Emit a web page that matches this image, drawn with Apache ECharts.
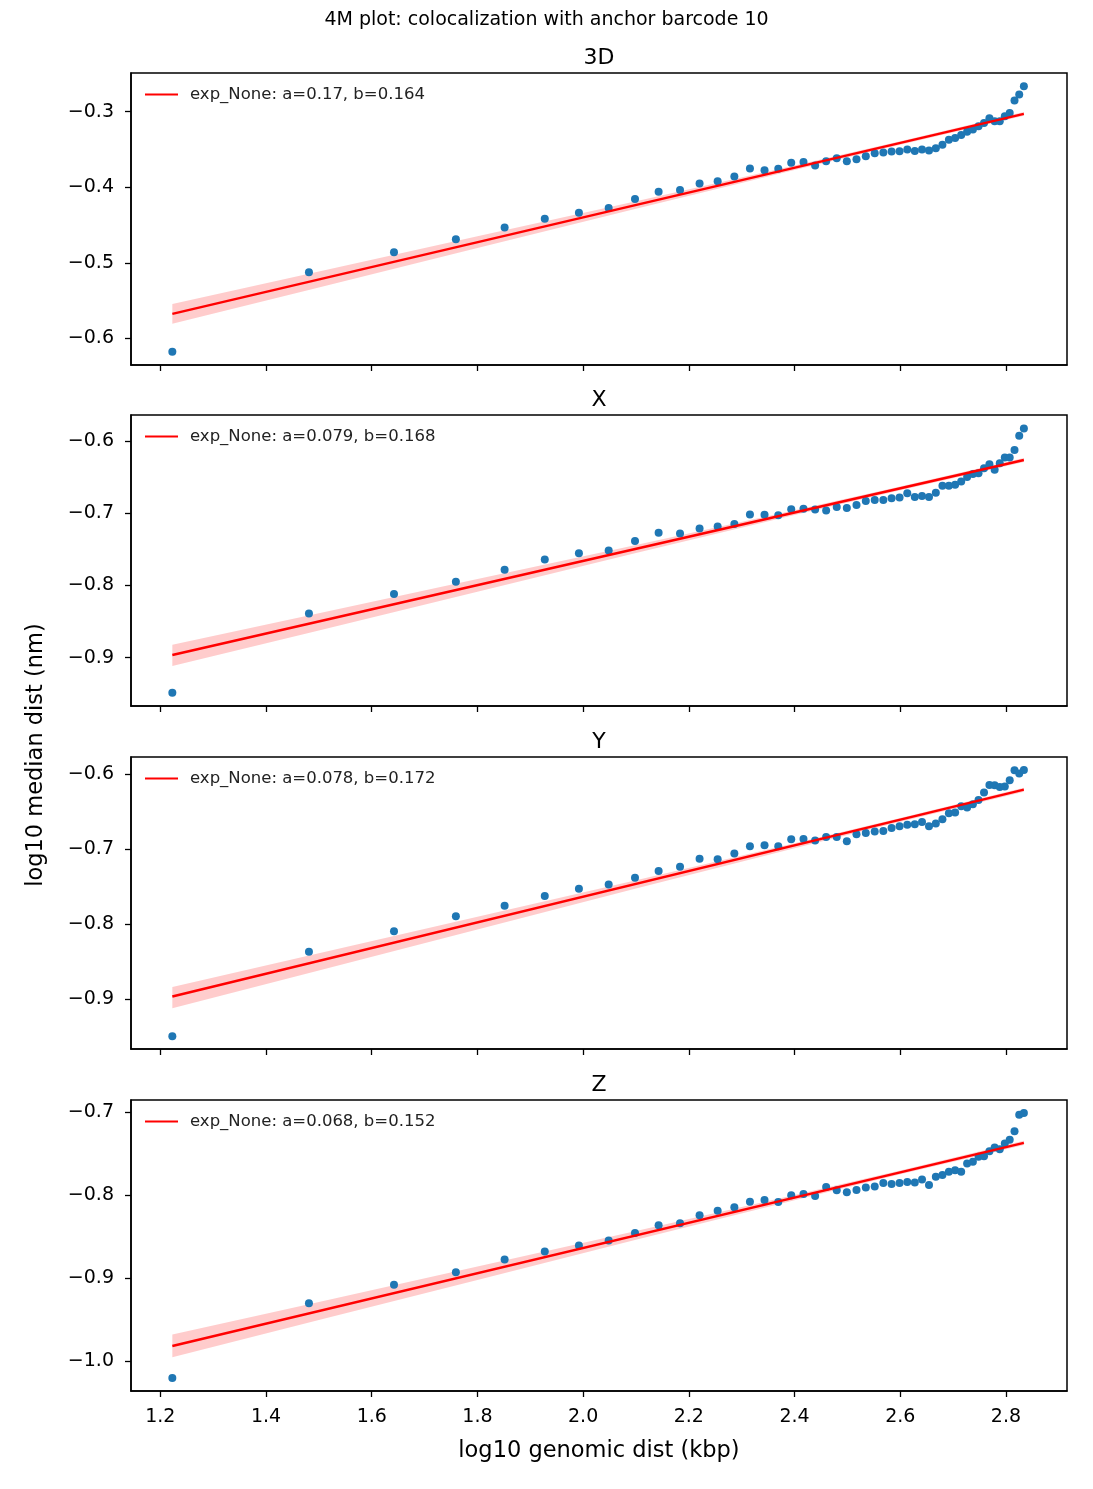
<!DOCTYPE html>
<html>
<head>
<meta charset="utf-8">
<script src="https://cdn.jsdelivr.net/npm/echarts@6/dist/echarts.min.js"></script>
<style>
html,body{margin:0;padding:0;background:#fff;}
#chart{width:1093px;height:1489px;}
</style>
</head>
<body>
<div id="chart"></div>
<script>
// ---------- data ----------
const xVals = [1.2227, 1.4812, 1.6421, 1.7592, 1.8514, 1.9274, 1.9920, 2.0483, 2.0981, 2.1428,
  2.1833, 2.2203, 2.2545, 2.2861, 2.3156, 2.3432, 2.3692, 2.3937, 2.4169, 2.4389,
  2.4598, 2.4798, 2.4989, 2.5172, 2.5348, 2.5517, 2.5680, 2.5836, 2.5987, 2.6133,
  2.6275, 2.6412, 2.6544, 2.6673, 2.6798, 2.6920, 2.7038, 2.7153, 2.7265, 2.7374,
  2.7481, 2.7585, 2.7687, 2.7786, 2.7883, 2.7978, 2.8071, 2.8162, 2.8251, 2.8339];

const y3D = [-0.6176, -0.5124, -0.4859, -0.4688, -0.4533, -0.4418, -0.4339, -0.4273, -0.4154, -0.4061,
  -0.4035, -0.3952, -0.3921, -0.3859, -0.3753, -0.3775, -0.3757, -0.3678, -0.3665, -0.3714,
  -0.3656, -0.3617, -0.3656, -0.3630, -0.3590, -0.3551, -0.3542, -0.3529, -0.3524, -0.3502,
  -0.3520, -0.3502, -0.3515, -0.3485, -0.3440, -0.3374, -0.3348, -0.3308, -0.3268, -0.3238,
  -0.3194, -0.3150, -0.3089, -0.3128, -0.3128, -0.3062, -0.3018, -0.2853, -0.2775, -0.2665];

const yX = [-0.9486, -0.8390, -0.8119, -0.7950, -0.7784, -0.7642, -0.7555, -0.7518, -0.7385, -0.7270,
  -0.7280, -0.7211, -0.7183, -0.7151, -0.7018, -0.7023, -0.7028, -0.6945, -0.6940, -0.6949,
  -0.6963, -0.6913, -0.6927, -0.6885, -0.6830, -0.6816, -0.6816, -0.6794, -0.6784, -0.6725,
  -0.6775, -0.6761, -0.6775, -0.6716, -0.6619, -0.6619, -0.6605, -0.6560, -0.6500, -0.6458,
  -0.6445, -0.6376, -0.6321, -0.6399, -0.6307, -0.6229, -0.6229, -0.6124, -0.5927, -0.5826];

const yY = [-0.9489, -0.8364, -0.8093, -0.7893, -0.7751, -0.7623, -0.7524, -0.7467, -0.7378, -0.7289,
  -0.7231, -0.7124, -0.7133, -0.7057, -0.6960, -0.6947, -0.6960, -0.6867, -0.6862, -0.6884,
  -0.6836, -0.6836, -0.6893, -0.6800, -0.6782, -0.6764, -0.6756, -0.6716, -0.6693, -0.6671,
  -0.6667, -0.6636, -0.6693, -0.6657, -0.6600, -0.6520, -0.6511, -0.6427, -0.6444, -0.6400,
  -0.6342, -0.6244, -0.6142, -0.6147, -0.6169, -0.6164, -0.6080, -0.5947, -0.5991, -0.5943];

const yZ = [-1.0202, -0.9301, -0.9077, -0.8929, -0.8773, -0.8677, -0.8605, -0.8545, -0.8453, -0.8360,
  -0.8336, -0.8240, -0.8185, -0.8144, -0.8077, -0.8056, -0.8080, -0.8000, -0.7984, -0.8008,
  -0.7900, -0.7940, -0.7964, -0.7936, -0.7904, -0.7892, -0.7852, -0.7864, -0.7852, -0.7840,
  -0.7844, -0.7808, -0.7876, -0.7776, -0.7756, -0.7716, -0.7696, -0.7716, -0.7616, -0.7596,
  -0.7536, -0.7528, -0.7468, -0.7424, -0.7444, -0.7376, -0.7328, -0.7228, -0.7028, -0.7008];

// fitted line end points
const fitX = [1.2227, 2.8339];
const fit3D = [-0.5674, -0.3030];
const fitXax = [-0.8965, -0.6262];
const fitYax = [-0.8960, -0.6205];
const fitZax = [-0.9818, -0.7367];

// confidence band (lower / upper edges)
const bandX = [1.2227, 1.5, 1.8, 2.1, 2.4, 2.6, 2.8339];
const band3DLo = [-0.5804, -0.5324, -0.4805, -0.4285, -0.3773, -0.3437, -0.3056];
const band3DHi = [-0.5544, -0.5114, -0.4649, -0.4185, -0.3713, -0.3393, -0.3006];
const bandXLo = [-0.9117, -0.8624, -0.8088, -0.7552, -0.7026, -0.6681, -0.6291];
const bandXHi = [-0.8823, -0.8384, -0.7912, -0.7440, -0.6958, -0.6631, -0.6235];
const bandYLo = [-0.9118, -0.8615, -0.8068, -0.7521, -0.6984, -0.6631, -0.6232];
const bandYHi = [-0.8834, -0.8383, -0.7898, -0.7413, -0.6918, -0.6583, -0.6178];
const bandZLo = [-0.9952, -0.9505, -0.9020, -0.8535, -0.8058, -0.7746, -0.7393];
const bandZHi = [-0.9680, -0.9285, -0.8858, -0.8431, -0.7996, -0.7700, -0.7341];

const panelTitles = ['3D', 'X', 'Y', 'Z'];
const legendLabels = ['exp_None: a=0.17, b=0.164', 'exp_None: a=0.079, b=0.168',
                      'exp_None: a=0.078, b=0.172', 'exp_None: a=0.068, b=0.152'];
const xTicks = [1.2, 1.4, 1.6, 1.8, 2.0, 2.2, 2.4, 2.6, 2.8];
const yTicks3D = [-0.6, -0.5, -0.4, -0.3];
const yTicksX = [-0.9, -0.8, -0.7, -0.6];
const yTicksY = [-0.9, -0.8, -0.7, -0.6];
const yTicksZ = [-1.0, -0.9, -0.8, -0.7];
const mainTitle = '4M plot: colocalization with anchor barcode 10';
const xAxisTitle = 'log10 genomic dist (kbp)';
const yAxisTitle = 'log10 median dist (nm)';

// ---------- layout ----------
const FONT = 'DejaVu Sans';
const gridLeft = 131, gridWidth = 936;
const gridTops = [73, 415, 757, 1100];
const gridHeights = [292, 291, 292, 291];
const yRanges = [[-0.635, -0.249], [-0.967, -0.564], [-0.966, -0.577], [-1.036, -0.685]];
const xRange = [1.1445, 2.9155];

const panels = [
  {y: y3D, fit: fit3D, lo: band3DLo, hi: band3DHi, ticks: yTicks3D},
  {y: yX, fit: fitXax, lo: bandXLo, hi: bandXHi, ticks: yTicksX},
  {y: yY, fit: fitYax, lo: bandYLo, hi: bandYHi, ticks: yTicksY},
  {y: yZ, fit: fitZax, lo: bandZLo, hi: bandZHi, ticks: yTicksZ}
];

const fmt = v => Number(v).toFixed(1).replace('-', '\u2212');

const grids = [], xAxes = [], yAxes = [], series = [], titles = [], legends = [];

titles.push({text: mainTitle, left: 'center', top: 6,
  textStyle: {fontFamily: FONT, fontSize: 19, fontWeight: 'normal', color: '#000'}});

panels.forEach((p, i) => {
  grids.push({left: gridLeft, top: gridTops[i], width: gridWidth, height: gridHeights[i],
    show: true, borderColor: '#000', borderWidth: 1.5, backgroundColor: 'transparent', containLabel: false});
  const last = i === panels.length - 1;
  xAxes.push({
    type: 'value', gridIndex: i, min: xRange[0], max: xRange[1],
    axisLine: {show: true, onZero: false, lineStyle: {color: '#000', width: 1.5}},
    axisTick: {show: true, customValues: xTicks, length: 6, lineStyle: {color: '#000', width: 1.3}},
    axisLabel: {show: last, customValues: xTicks, formatter: fmt, margin: 17,
      fontFamily: FONT, fontSize: 19, color: '#000'},
    splitLine: {show: false},
    name: last ? xAxisTitle : '', nameLocation: 'middle', nameGap: 49,
    nameTextStyle: {fontFamily: FONT, fontSize: 22.5, color: '#000'}
  });
  yAxes.push({
    type: 'value', gridIndex: i, min: yRanges[i][0], max: yRanges[i][1],
    axisLine: {show: true, onZero: false, lineStyle: {color: '#000', width: 1.5}},
    axisTick: {show: true, customValues: p.ticks, length: 6, lineStyle: {color: '#000', width: 1.3}},
    axisLabel: {show: true, customValues: p.ticks, formatter: fmt, margin: 17,
      fontFamily: FONT, fontSize: 19, color: '#000'},
    splitLine: {show: false}
  });
  titles.push({text: panelTitles[i], left: gridLeft + gridWidth / 2, textAlign: 'center',
    top: gridTops[i] - 26, padding: 0,
    textStyle: {fontFamily: FONT, fontSize: 22, fontWeight: 'normal', color: '#000'}});

  const lo = p.lo, hi = p.hi;
  series.push({
    type: 'custom', xAxisIndex: i, yAxisIndex: i, z: 1, silent: true,
    data: [[bandX[0], lo[0]]],
    renderItem: function (params, api) {
      const pts = [];
      for (let k = 0; k < bandX.length; k++) pts.push(api.coord([bandX[k], hi[k]]));
      for (let k = bandX.length - 1; k >= 0; k--) pts.push(api.coord([bandX[k], lo[k]]));
      return {type: 'polygon', shape: {points: pts}, style: {fill: 'rgba(255,0,0,0.2)'}};
    }
  });
  series.push({
    type: 'scatter', xAxisIndex: i, yAxisIndex: i, z: 2, symbolSize: 8,
    itemStyle: {color: '#1f77b4', opacity: 1},
    data: xVals.map((x, k) => [x, p.y[k]])
  });
  series.push({
    type: 'line', name: legendLabels[i], xAxisIndex: i, yAxisIndex: i, z: 3,
    showSymbol: false, symbol: 'none', silent: true,
    lineStyle: {color: '#ff0000', width: 2.5}, itemStyle: {color: '#ff0000'},
    data: fitX.map((x, k) => [x, p.fit[k]])
  });
  legends.push({
    data: [{name: legendLabels[i], icon: 'rect'}],
    left: 145, top: gridTops[i] + 13, padding: 0,
    itemWidth: 33, itemHeight: 2, selectedMode: false,
    textStyle: {fontFamily: FONT, fontSize: 16.5, color: '#222', padding: [0, 0, 0, 7]}
  });
});

const chart = echarts.init(document.getElementById('chart'), null, {renderer: 'canvas'});
chart.setOption({
  backgroundColor: '#fff',
  animation: false,
  title: titles,
  legend: legends,
  grid: grids,
  xAxis: xAxes,
  yAxis: yAxes,
  series: series,
  graphic: [{
    type: 'text', x: 36, y: 755, rotation: Math.PI / 2,
    style: {text: yAxisTitle, fontFamily: FONT, fontSize: 22.5, fill: '#000',
      textAlign: 'center', textVerticalAlign: 'middle'}
  }]
});
</script>
</body>
</html>
